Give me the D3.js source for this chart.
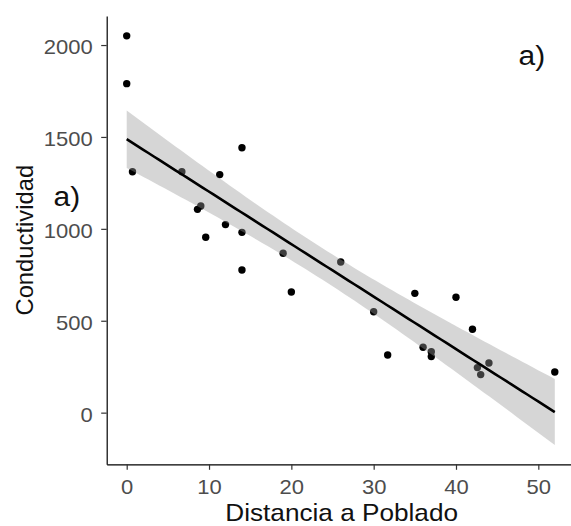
<!DOCTYPE html>
<html>
<head>
<meta charset="utf-8">
<script src="https://cdn.jsdelivr.net/npm/d3@7"></script>
<style>
  html, body { margin: 0; padding: 0; background: #fff; }
  svg { display: block; font-family: "Liberation Sans", Arial, sans-serif; }
</style>
</head>
<body>
<svg id="chart" width="571" height="526"></svg>
<script>
// distance to village (x) and conductivity (y)
const distancia = [0, 0, 0.7, 6.7, 11.3, 14, 8.6, 9, 12, 9.6, 14, 14, 19, 20, 26,
  30, 31.7, 35, 36, 37, 37, 40, 42, 42.6, 43, 44, 52];
const conductividad = [2050, 1790, 1311, 1311, 1295, 1441, 1106, 1124, 1023, 954, 981,
  776, 867, 656, 820, 549, 314, 649, 356, 332, 305, 628, 454, 245, 207, 270, 221];
const xTicks = [0, 10, 20, 30, 40, 50];
const yTicks = [0, 500, 1000, 1500, 2000];
const xLabel = "Distancia a Poblado";
const yLabel = "Conductividad";
const panelLabel = "a)";

const dims = {
  left: 106.7, right: 576.6, top: 16, bottom: 464.3,
  tickSize: 5.5, stretch: 1.1,
};

const svg = d3.select("#chart");

const x = d3.scaleLinear().domain([-2.43, 54.65]).range([dims.left, dims.right]);
const y = d3.scaleLinear().domain([-281, 2158]).range([dims.bottom, dims.top]);

// ordinary least squares fit with 95% confidence band (like geom_smooth(method = "lm"))
const pts = distancia.map((d, i) => ({ x: d, y: conductividad[i] }));
const n = pts.length;
const mx = d3.mean(pts, (d) => d.x);
const my = d3.mean(pts, (d) => d.y);
const sxx = d3.sum(pts, (d) => (d.x - mx) ** 2);
const sxy = d3.sum(pts, (d) => (d.x - mx) * (d.y - my));
const slope = sxy / sxx;
const intercept = my - slope * mx;
const sse = d3.sum(pts, (d) => (d.y - intercept - slope * d.x) ** 2);
const s = Math.sqrt(sse / (n - 2));
const tCrit = 2.0595; // t(0.975, df = 25)

const [x0, x1] = d3.extent(distancia);
const fit = d3.range(80).map((i) => {
  const xv = x0 + ((x1 - x0) * i) / 79;
  const yv = intercept + slope * xv;
  const se = s * Math.sqrt(1 / n + (xv - mx) ** 2 / sxx);
  return { x: xv, y: yv, lo: yv - tCrit * se, hi: yv + tCrit * se };
});

// points first, band drawn over them (that is why points inside it look grey)
svg.append("g")
  .selectAll("circle")
  .data(pts)
  .join("circle")
  .attr("cx", (d) => x(d.x))
  .attr("cy", (d) => y(d.y))
  .attr("r", 3.7)
  .attr("fill", "#000");

svg.append("path")
  .datum(fit)
  .attr("fill", "#999")
  .attr("fill-opacity", 0.4)
  .attr("d", d3.area().x((d) => x(d.x)).y0((d) => y(d.lo)).y1((d) => y(d.hi)));

svg.append("path")
  .datum(fit)
  .attr("fill", "none")
  .attr("stroke", "#000")
  .attr("stroke-width", 2.6)
  .attr("d", d3.line().x((d) => x(d.x)).y((d) => y(d.y)));

// axes
const styleAxis = (g) => {
  g.select(".domain").attr("stroke", "#000").attr("stroke-width", 1.2);
  g.selectAll(".tick line").attr("stroke", "#333").attr("stroke-width", 1.2);
  g.selectAll(".tick text")
    .attr("fill", "#4d4d4d")
    .attr("font-size", 20)
    .attr("font-family", "Liberation Sans, Arial, sans-serif");
};

svg.append("g")
  .attr("transform", `translate(0,${dims.bottom})`)
  .call(d3.axisBottom(x).tickValues(xTicks).tickFormat(d3.format("d"))
    .tickSize(dims.tickSize).tickSizeOuter(0).tickPadding(10.5))
  .call(styleAxis)
  .call((g) => g.selectAll(".tick text").attr("transform", `scale(${dims.stretch},1)`));

svg.append("g")
  .attr("transform", `translate(${dims.left},0)`)
  .call(d3.axisLeft(y).tickValues(yTicks).tickFormat(d3.format("d"))
    .tickSize(dims.tickSize).tickSizeOuter(0).tickPadding(8.5))
  .call(styleAxis)
  .call((g) => g.selectAll(".tick text")
    .attr("dy", "0.42em")
    .attr("transform", `translate(-14,0) scale(${dims.stretch},1) translate(14,0)`));

// titles
svg.append("text")
  .attr("transform", `translate(${(dims.left + dims.right) / 2},520.5) scale(${dims.stretch},1)`)
  .attr("text-anchor", "middle")
  .attr("font-size", 23.8)
  .attr("fill", "#111")
  .text(xLabel);

svg.append("text")
  .attr("transform", `translate(33.3,${(dims.top + dims.bottom) / 2}) rotate(-90)`)
  .attr("text-anchor", "middle")
  .attr("font-size", 23.8)
  .attr("fill", "#111")
  .text(yLabel);

// panel tags
[[518.5, 65], [53.5, 206]].forEach(([tx, ty]) => {
  svg.append("text")
    .attr("transform", `translate(${tx},${ty}) scale(1.07,1)`)
    .attr("font-size", 28)
    .attr("fill", "#111")
    .text(panelLabel);
});
</script>
</body>
</html>
